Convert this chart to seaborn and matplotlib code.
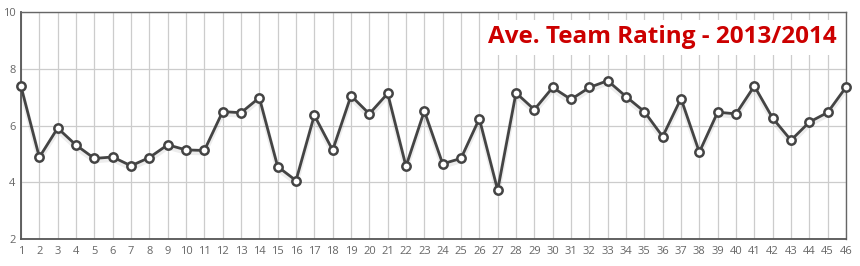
import matplotlib
matplotlib.use("Agg")
import matplotlib.pyplot as plt
import seaborn as sns
import pandas as pd

games = list(range(1, 47))
ratings = [7.38, 4.88, 5.91, 5.31, 4.84, 4.89, 4.58, 4.87, 5.32, 5.14,
           5.12, 6.49, 6.45, 6.98, 4.55, 4.06, 6.36, 5.13, 7.05, 6.41,
           7.13, 4.56, 6.51, 4.65, 4.84, 6.24, 3.72, 7.15, 6.56, 7.34,
           6.92, 7.34, 7.58, 7.02, 6.49, 5.61, 6.95, 5.06, 6.47, 6.41,
           7.39, 6.26, 5.48, 6.12, 6.46, 7.35]
y_ticks = [2, 4, 6, 8, 10]
title = "Ave. Team Rating - 2013/2014"

df = pd.DataFrame({"game": games, "rating": ratings})

sns.set_theme(style="white")
plt.rcParams["font.family"] = ["Open Sans", "DejaVu Sans"]

fig = plt.figure(figsize=(8.6, 2.66), dpi=100)
ax = fig.add_axes([21 / 860, 1 - 239 / 266, 825 / 860, 227 / 266])

# soft shadow
sns.lineplot(data=df, x="game", y="rating", ax=ax, color="#000000", alpha=0.07,
             linewidth=3.5, zorder=2,
             transform=matplotlib.transforms.offset_copy(ax.transData, fig=fig, x=0, y=-2.5, units="dots"))
sns.lineplot(data=df, x="game", y="rating", ax=ax, color="#444444", linewidth=2,
             marker="o", markersize=6, markerfacecolor="white",
             markeredgecolor="#444444", markeredgewidth=1.8, zorder=3, clip_on=False)

ax.set_xlim(1, 46)
ax.set_ylim(2, 10)
ax.set_xticks(games)
ax.set_xticklabels([str(g) for g in games])
ax.set_yticks(y_ticks)
ax.set_yticklabels([str(t) for t in y_ticks])
ax.grid(True, color="#cccccc", linewidth=0.9)
ax.set_axisbelow(True)
ax.set_xlabel("")
ax.set_ylabel("")
ax.tick_params(axis="both", length=0, labelsize=8, labelcolor="#666666")
ax.tick_params(axis="x", pad=5)
ax.tick_params(axis="y", pad=4)
for side in ["left", "bottom"]:
    ax.spines[side].set_color("#555555")
    ax.spines[side].set_linewidth(1.3)
for side in ["top", "right"]:
    ax.spines[side].set_color("#666666")
    ax.spines[side].set_linewidth(1.0)

ax.text(0.9885, 0.863, title, transform=ax.transAxes, ha="right", va="baseline",
        fontsize=17.5, fontweight="bold", color="#cc0000", zorder=5,
        bbox=dict(facecolor="white", edgecolor="none", pad=4))

fig.savefig("out.png", dpi=100)
